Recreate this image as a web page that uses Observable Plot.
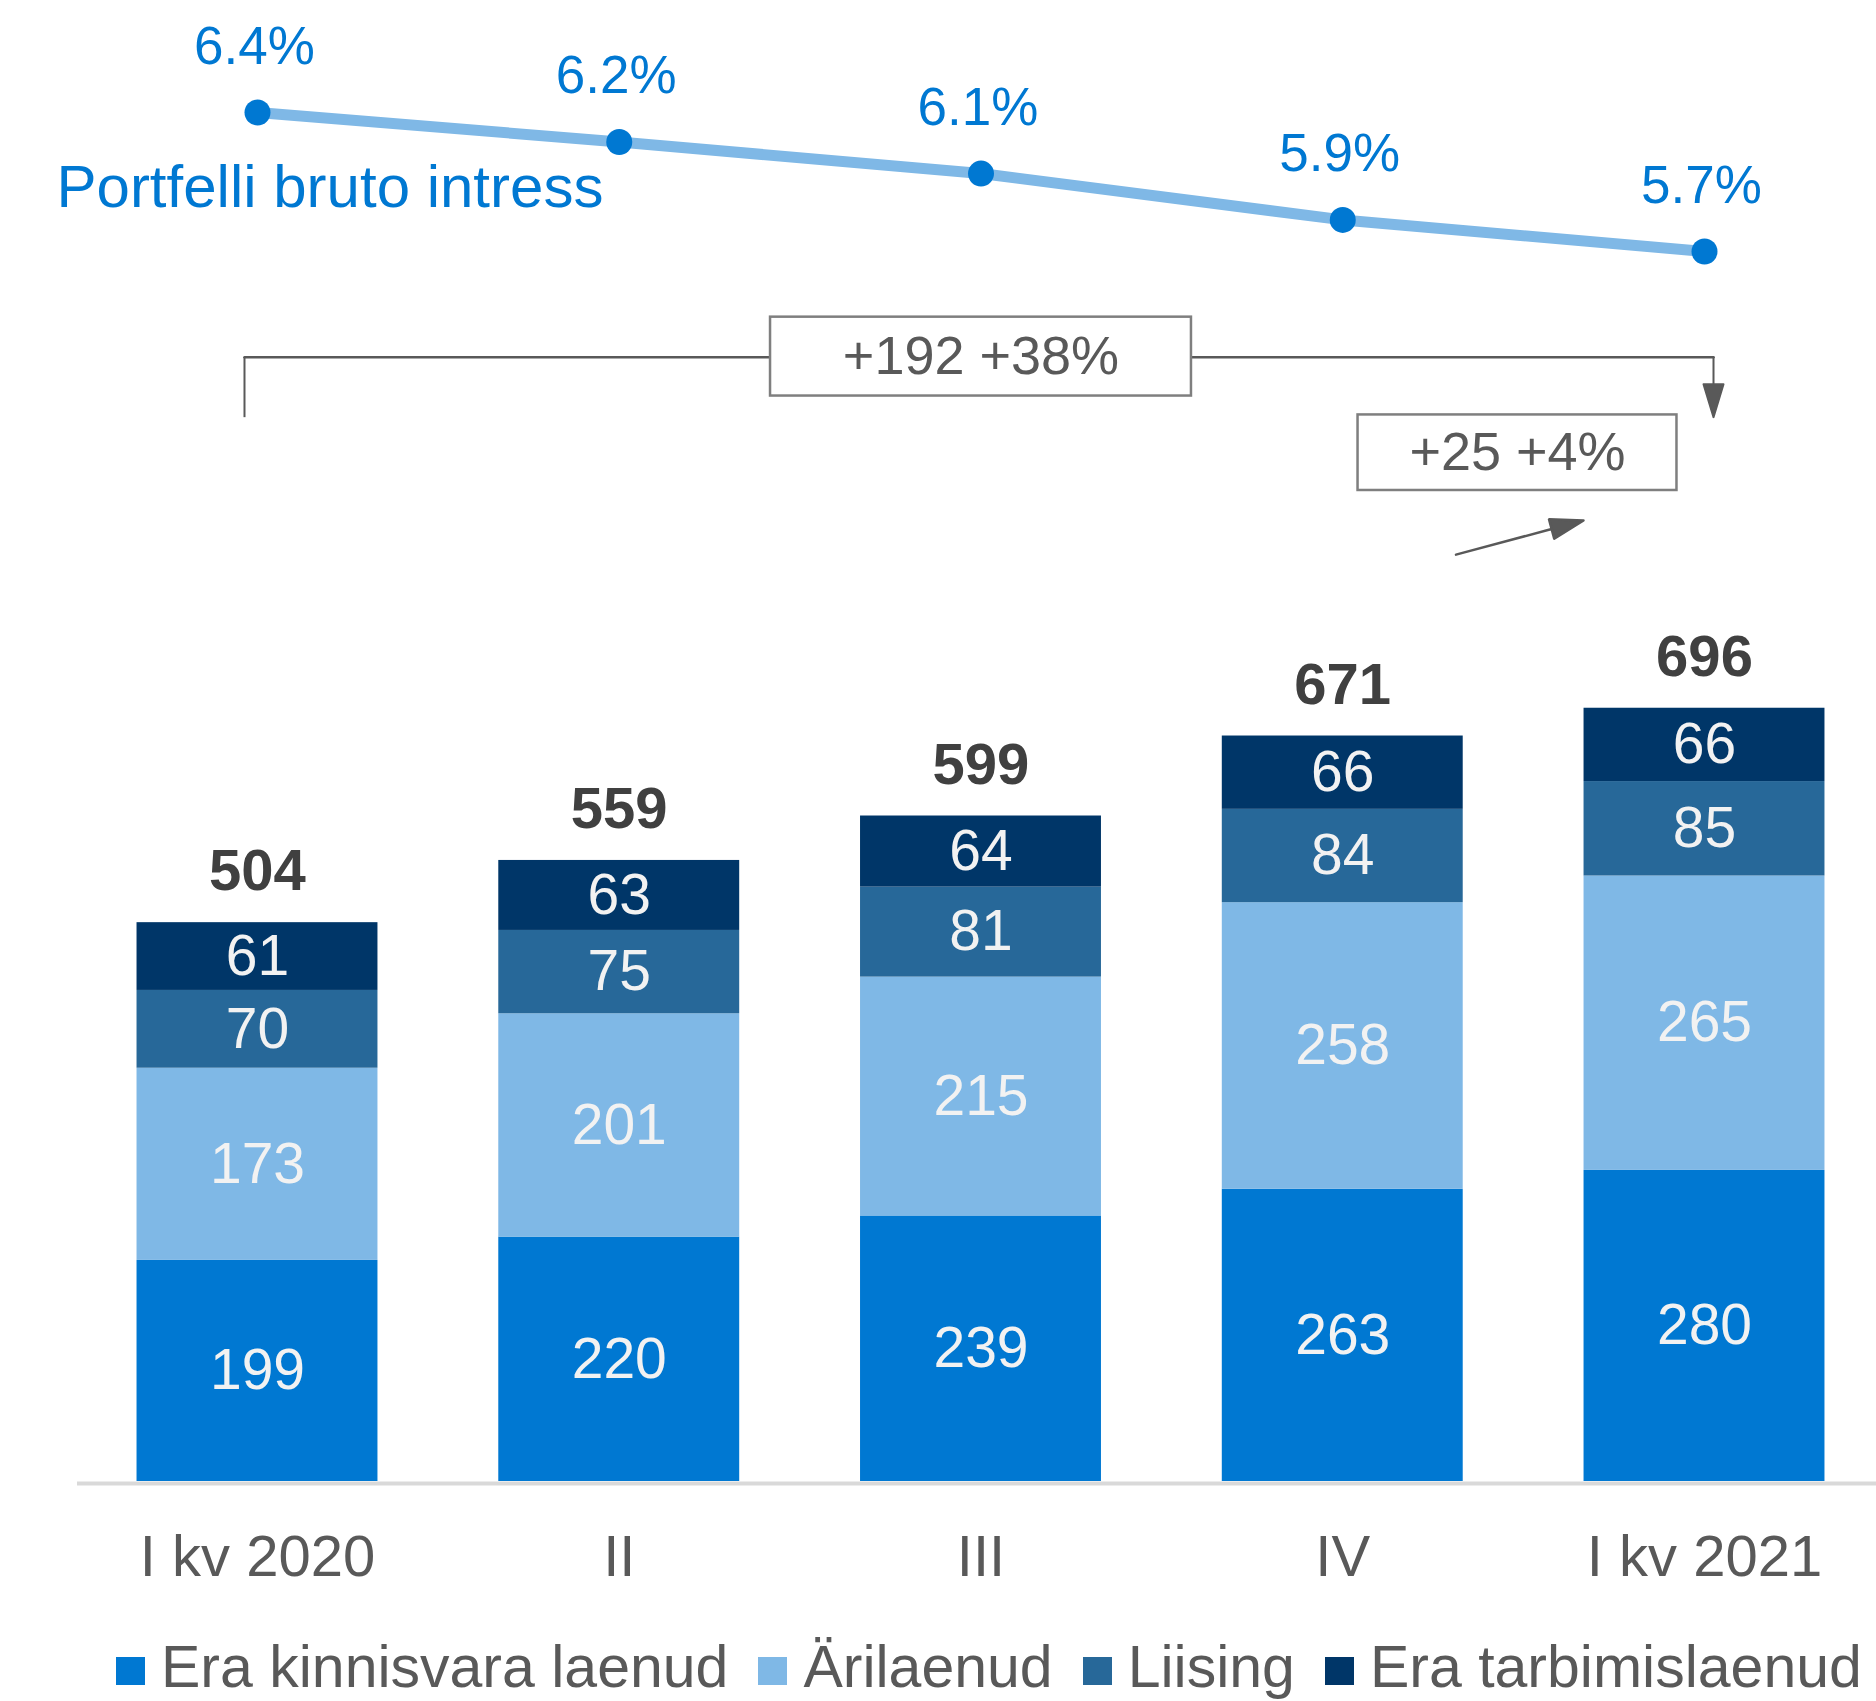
<!DOCTYPE html>
<html><head><meta charset="utf-8">
<script src="https://cdn.jsdelivr.net/npm/d3@7"></script>
<script src="https://cdn.jsdelivr.net/npm/@observablehq/plot@0.6"></script>
<style>
 body{margin:0;background:#fff;font-family:"Liberation Sans",Arial,sans-serif;}
 #chart{width:1876px;}
 #chart svg{display:block;}
 .legend{display:flex;align-items:center;height:81px;box-sizing:border-box;padding-left:116px;padding-top:14px;font-size:59px;line-height:1;color:#595959;white-space:nowrap;overflow:hidden}
 .legend .item{display:flex;align-items:center;margin-right:30px}
 .legend .sw{width:29px;height:28px;margin-right:16px;flex:none;margin-top:6px}
</style></head><body><div id="chart"></div>
<script>
// ---- data ----
const quarters = ["I kv 2020", "II", "III", "IV", "I kv 2021"];
const seriesNames = ["Era kinnisvara laenud", "Ärilaenud", "Liising", "Era tarbimislaenud"];
const eraKinnisvaraLaenud = [199, 220, 239, 263, 280];
const arilaenud = [173, 201, 215, 258, 265];
const liising = [70, 75, 81, 84, 85];
const eraTarbimislaenud = [61, 63, 64, 66, 66];
const totals = [504, 559, 599, 671, 696];
const grossRate = [6.38, 6.24, 6.09, 5.87, 5.72];
const lineLabel = "Portfelli bruto intress";
const colors = ["#0078d2", "#7fb8e6", "#276899", "#003668"];

// ---- annotation levels (in bar value units) ----
const bracketY = 1012, bracketFootY = 958;
const box1Y = [977, 1048], box2Y = [892, 960];
const growthArrowTipY = 865;

// ---- tables ----
const seriesValues = [eraKinnisvaraLaenud, arilaenud, liising, eraTarbimislaenud];
const rows = [];
quarters.forEach((q, i) => {
  let acc = 0;
  seriesValues.forEach((vals, s) => {
    const v = vals[i];
    rows.push({quarter: q, series: seriesNames[s], value: v, y1: acc, y2: acc + v, mid: acc + v / 2});
    acc += v;
  });
});
const totalRows = quarters.map((q, i) => ({quarter: q, total: totals[i]}));
const rateRows = quarters.map((q, i) => ({quarter: q, rate: grossRate[i], label: grossRate[i].toFixed(1) + "%"}));

const dAll = totals[4] - totals[0];
const dLast = totals[4] - totals[3];
const box1Text = `+${dAll} +${Math.round(dAll / totals[0] * 100)}%`;
const box2Text = `+${dLast} +${Math.round(dLast / totals[3] * 100)}%`;

const FONT = '"Liberation Sans", Arial, sans-serif';
const GRAY = "#595959";
const W = 1876;
const xScale = {domain: quarters, type: "band", paddingInner: 0.334, paddingOuter: 0.1535, align: 0.536, round: false};

const headedArrow = {
  draw(context, l, r) {
    const h = Math.min(33, l), w = 10;
    context.moveTo(0, 0);
    context.lineTo(0, -l + h);
    context.moveTo(0, -l);
    context.lineTo(w, -l + h);
    context.lineTo(-w, -l + h);
    context.closePath();
  }
};

// ---- top: line chart ----
const topPlot = Plot.plot({
  width: W, height: 300, marginTop: 0, marginBottom: 0, marginLeft: 77, marginRight: 0,
  style: {fontFamily: FONT, background: "transparent"},
  x: {...xScale, axis: null},
  y: {domain: [5.72, 6.38], range: [251, 112], axis: null},
  marks: [
    Plot.line(rateRows, {x: "quarter", y: "rate", stroke: "#7fb8e6", strokeWidth: 11}),
    Plot.dot(rateRows, {x: "quarter", y: "rate", r: 13, fill: "#0078d2"}),
    Plot.text(rateRows, {x: "quarter", y: "rate", text: "label", dx: -3, dy: -49, lineAnchor: "bottom", fill: "#0078d2", fontSize: 53}),
    Plot.text([lineLabel], {frameAnchor: "top-left", text: d => d, dx: -21, dy: 206, textAnchor: "start", lineAnchor: "bottom", fill: "#0078d2", fontSize: 60})
  ]
});

// ---- bottom: stacked bars ----
const bracket = [{xa: quarters[0], xb: quarters[4], ya: bracketY, yb: bracketY}];
const bracketLeft = [{xa: quarters[0], xb: quarters[0], ya: bracketY, yb: bracketFootY}];
const bottomPlot = Plot.plot({
  width: W, height: 1320, marginTop: 0, marginBottom: 139, marginLeft: 77, marginRight: 0,
  style: {fontFamily: FONT, fontSize: "58px", color: GRAY, background: "transparent"},
  x: {...xScale, tickSize: 0, tickPadding: 53, label: null},
  y: {domain: [0, 1063], axis: null},
  color: {domain: seriesNames, range: colors},
  marks: [
    Plot.barY(rows, {x: "quarter", y1: "y1", y2: "y2", fill: "series"}),
    Plot.ruleY([0], {stroke: "#d9d9d9", strokeWidth: 4, dy: 2}),
    Plot.text(rows, {x: "quarter", y: "mid", text: d => String(d.value), fill: "#f2f2f2", fontSize: 57}),
    Plot.text(totalRows, {x: "quarter", y: "total", text: d => String(d.total), fontWeight: "bold", fill: "#404040", fontSize: 58, lineAnchor: "bottom", dy: -32}),
    // bracket over whole period
    Plot.arrow(bracket, {x1: "xa", x2: "xb", y1: "ya", y2: "yb", stroke: GRAY, strokeWidth: 2.5, headLength: 0, insetStart: -13, insetEnd: -9}),
    Plot.link(bracketLeft, {x1: "xa", x2: "xb", y1: "ya", y2: "yb", dx: -13, stroke: GRAY, strokeWidth: 2}),
    Plot.vector([{q: quarters[4], y: bracketY}], {x: "q", y: "y", dx: 9, length: 60, rotate: 180, anchor: "start", shape: headedArrow, stroke: GRAY, fill: GRAY, strokeWidth: 2}),
    Plot.barY([{q: quarters[2], a: box1Y[0], b: box1Y[1]}], {x: "q", y1: "a", y2: "b", fill: "white", stroke: "#7f7f7f", strokeWidth: 2.5, insetLeft: -90, insetRight: -90}),
    Plot.text([{q: quarters[2], y: (box1Y[0] + box1Y[1]) / 2, t: box1Text}], {x: "q", y: "y", text: "t", fill: GRAY, fontSize: 54}),
    // last quarter growth
    Plot.barY([{q: quarters[4], a: box2Y[0], b: box2Y[1]}], {x: "q", y1: "a", y2: "b", dx: -187, fill: "white", stroke: "#7f7f7f", strokeWidth: 2.5, insetLeft: -39, insetRight: -39}),
    Plot.text([{q: quarters[4], y: (box2Y[0] + box2Y[1]) / 2, t: box2Text}], {x: "q", y: "y", text: "t", dx: -187, fill: GRAY, fontSize: 54}),
    Plot.vector([{q: quarters[4], y: growthArrowTipY}], {x: "q", y: "y", dx: -121, length: 132, rotate: 75, anchor: "end", shape: headedArrow, stroke: GRAY, fill: GRAY, strokeWidth: 2.5})
  ]
});

const chart = document.getElementById("chart");
chart.appendChild(topPlot);
chart.appendChild(bottomPlot);

const legend = document.createElement("div");
legend.className = "legend";
seriesNames.forEach((name, i) => {
  const item = document.createElement("div");
  item.className = "item";
  const sw = document.createElement("span");
  sw.className = "sw";
  sw.style.background = colors[i];
  const label = document.createElement("span");
  label.textContent = name;
  item.appendChild(sw);
  item.appendChild(label);
  legend.appendChild(item);
});
chart.appendChild(legend);
</script>
</body></html>
